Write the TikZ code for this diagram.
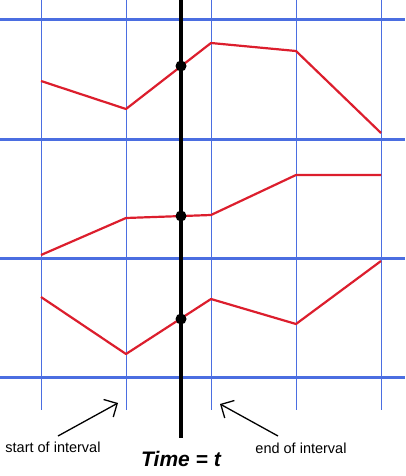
\documentclass[tikz,border=0pt]{standalone}
\usepackage{fontspec}
\setmainfont{Liberation Sans}
\usetikzlibrary{arrows.meta,positioning}
\definecolor{cGrid}{RGB}{75,110,225}
\definecolor{cCurve}{RGB}{220,30,45}
\tikzset{
  hline/.style={draw=cGrid,line width=3pt},
  vline/.style={draw=cGrid,line width=0.9pt},
  curve/.style={draw=cCurve,line width=2.2pt,line join=round},
  timeline/.style={draw=black,line width=4pt},
  dotnode/.style={circle,fill=black,inner sep=0pt,minimum size=11pt},
  lbl/.style={font=\fontsize{14.5}{16}\selectfont,inner sep=1pt},
  timelbl/.style={font=\bfseries\itshape\fontsize{21}{24}\selectfont,inner sep=1pt},
  arr/.style={-{Straight Barb[length=10pt,width=20pt]},line width=1.3pt}
}
\begin{document}
\begin{tikzpicture}[x=1pt,y=-1pt]
  \useasboundingbox (0,0) rectangle (405,476);

  % grid
  \foreach \y in {20,139,258,377}
    \draw[hline] (0,\y) -- (405,\y);
  \foreach \x in {41,126,211,296,381}
    \draw[vline] (\x,0) -- (\x,410);

  % the three signals
  \draw[curve] (41,81) -- (126,109) -- (211,43) -- (296,51) -- (381,133);
  \draw[curve] (41,255) -- (126,218) -- (211,215) -- (296,175) -- (381,175);
  \draw[curve] (41,297) -- (126,354) -- (211,299) -- (296,324) -- (381,261);

  % time t
  \coordinate (ttop) at (181,0);
  \coordinate (tbot) at (181,438);
  \draw[timeline] (ttop) -- (tbot);
  \node[dotnode] (d1) at (181,66) {};
  \node[dotnode] (d2) at (181,216) {};
  \node[dotnode] (d3) at (181,319) {};

  \node[lbl] (start) at (53,447) {start of interval};
  \node[lbl] (end) at (301,448) {end of interval};
  \node[timelbl] (time) at (181,459) {Time = t};

  \coordinate (sTail) at (58,436);
  \coordinate (sHead) at (118,403);
  \coordinate (eTail) at (278,436);
  \coordinate (eHead) at (220,404);
  \draw[arr] (sTail) -- (sHead);
  \draw[arr] (eTail) -- (eHead);

\end{tikzpicture}
\end{document}
